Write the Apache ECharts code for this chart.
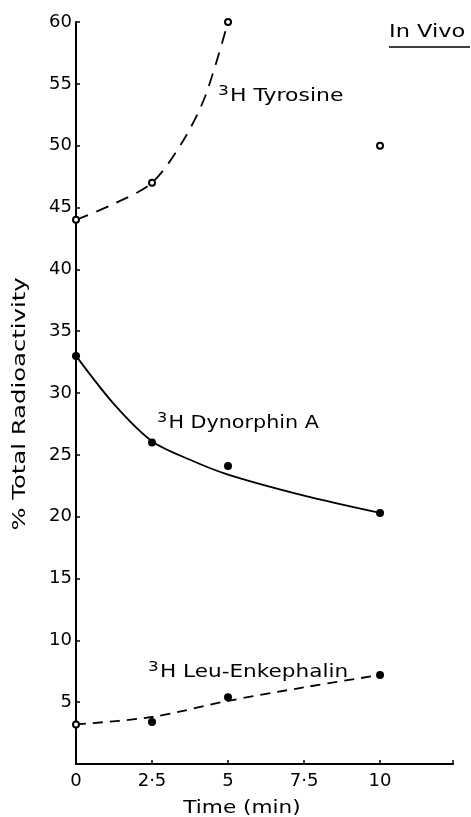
<!DOCTYPE html>
<html>
<head>
<meta charset="utf-8">
<script src="https://cdn.jsdelivr.net/npm/echarts@6/dist/echarts.min.js"></script>
<style>html,body{margin:0;padding:0;background:#fff}#c{width:471px;height:817px}</style>
</head>
<body>
<div id="c"></div>
<script>
var xTicks = [0, 2.5, 5, 7.5, 10];
var xTickLabels = ['0', '2·5', '5', '7·5', '10'];
var tyrosinePts = [[0, 44], [2.5, 47], [5, 60], [10, 50]];
var tyrosineCurve = [[0, 44], [1.25, 45.3], [2.5, 47], [3.5, 50.3], [4.25, 54], [5, 60]];
var dynorphinPts = [[0, 33], [2.5, 26], [5, 24.1], [10, 20.3]];
var dynorphinCurve = [[0, 33], [1.25, 29.1], [2.5, 26.1], [3.75, 24.6], [5, 23.4], [7.5, 21.7], [10, 20.3]];
var enkOpenPts = [[0, 3.2]];
var enkPts = [[2.5, 3.4], [5, 5.4], [10, 7.2]];
var enkCurve = [[0, 3.2], [2.5, 3.8], [5, 5.1], [7.5, 6.2], [10, 7.2]];

var FONT = 'DejaVu Sans';
var chart = echarts.init(document.getElementById('c'), null, {renderer: 'canvas'});

function lbl(text, left, top, sx) {
  return {
    type: 'text', x: left, y: top, scaleX: sx,
    style: {
      text: '{s|3}{m|H ' + text + '}',
      rich: {
        s: {fontSize: 14, fontFamily: FONT, fill: '#000', padding: [0, 1, 10, 0]},
        m: {fontSize: 18, fontFamily: FONT, fill: '#000'}
      }
    }
  };
}

chart.setOption({
  animation: false,
  backgroundColor: '#fff',
  grid: {left: 76, top: 22, right: 18, bottom: 53},
  xAxis: {
    type: 'value', min: 0, max: 12.4, interval: 2.5,
    axisLine: {lineStyle: {color: '#000', width: 2}},
    axisTick: {inside: true, length: 4, lineStyle: {color: '#000', width: 1.5}},
    splitLine: {show: false},
    axisLabel: {
      color: '#000', fontSize: 18, fontFamily: FONT, margin: 8,
      formatter: function (v) { var i = xTicks.indexOf(v); return i >= 0 ? xTickLabels[i] : ''; }
    }
  },
  yAxis: {
    type: 'value', min: 0, max: 60, interval: 5,
    axisLine: {show: true, lineStyle: {color: '#000', width: 2}},
    axisTick: {show: true, inside: true, length: 4, lineStyle: {color: '#000', width: 1.5}},
    splitLine: {show: false},
    axisLabel: {
      color: '#000', fontSize: 18, fontFamily: FONT, margin: 4,
      formatter: function (v) { return v === 0 ? '' : String(v); }
    }
  },
  graphic: [
    lbl('Tyrosine', 218, 84, 1.22),
    lbl('Dynorphin A', 157, 411, 1.15),
    lbl('Leu-Enkephalin', 148, 660, 1.2),
    {type: 'text', x: 389, y: 23, scaleX: 1.25, style: {text: 'In Vivo', fontSize: 18, fontFamily: FONT, fill: '#000'}},
    {type: 'line', shape: {x1: 389, y1: 47, x2: 470, y2: 47}, style: {stroke: '#000', lineWidth: 1.6}},
    {type: 'text', x: 242, y: 808, scaleX: 1.2,
     style: {text: 'Time (min)', fontSize: 18, fontFamily: FONT, fill: '#000', align: 'center', verticalAlign: 'middle'}},
    {type: 'text', x: 20, y: 404, rotation: Math.PI / 2, scaleX: 1.35,
     style: {text: '% Total Radioactivity', fontSize: 18, fontFamily: FONT, fill: '#000', align: 'center', verticalAlign: 'middle'}}
  ],
  series: [
    {type: 'line', data: tyrosineCurve, smooth: 0.3, showSymbol: false, symbol: 'none', silent: true,
     lineStyle: {color: '#000', width: 1.8, type: [13, 9]}},
    {type: 'scatter', data: tyrosinePts, symbol: 'emptyCircle', symbolSize: 6, clip: false, z: 5,
     itemStyle: {color: '#000', borderColor: '#000', borderWidth: 1.6, opacity: 1}},
    {type: 'line', data: dynorphinCurve, smooth: 0.3, showSymbol: false, symbol: 'none', silent: true,
     lineStyle: {color: '#000', width: 1.8}},
    {type: 'scatter', data: dynorphinPts, symbol: 'circle', symbolSize: 8, clip: false, z: 5,
     itemStyle: {color: '#000', opacity: 1}},
    {type: 'line', data: enkCurve, smooth: 0.3, showSymbol: false, symbol: 'none', silent: true,
     lineStyle: {color: '#000', width: 1.8, type: [10, 7]}},
    {type: 'scatter', data: enkPts, symbol: 'circle', symbolSize: 8, clip: false, z: 5,
     itemStyle: {color: '#000', opacity: 1}},
    {type: 'scatter', data: enkOpenPts, symbol: 'emptyCircle', symbolSize: 6, clip: false, z: 5,
     itemStyle: {color: '#000', borderColor: '#000', borderWidth: 1.6, opacity: 1}}
  ]
});
</script>
</body>
</html>
